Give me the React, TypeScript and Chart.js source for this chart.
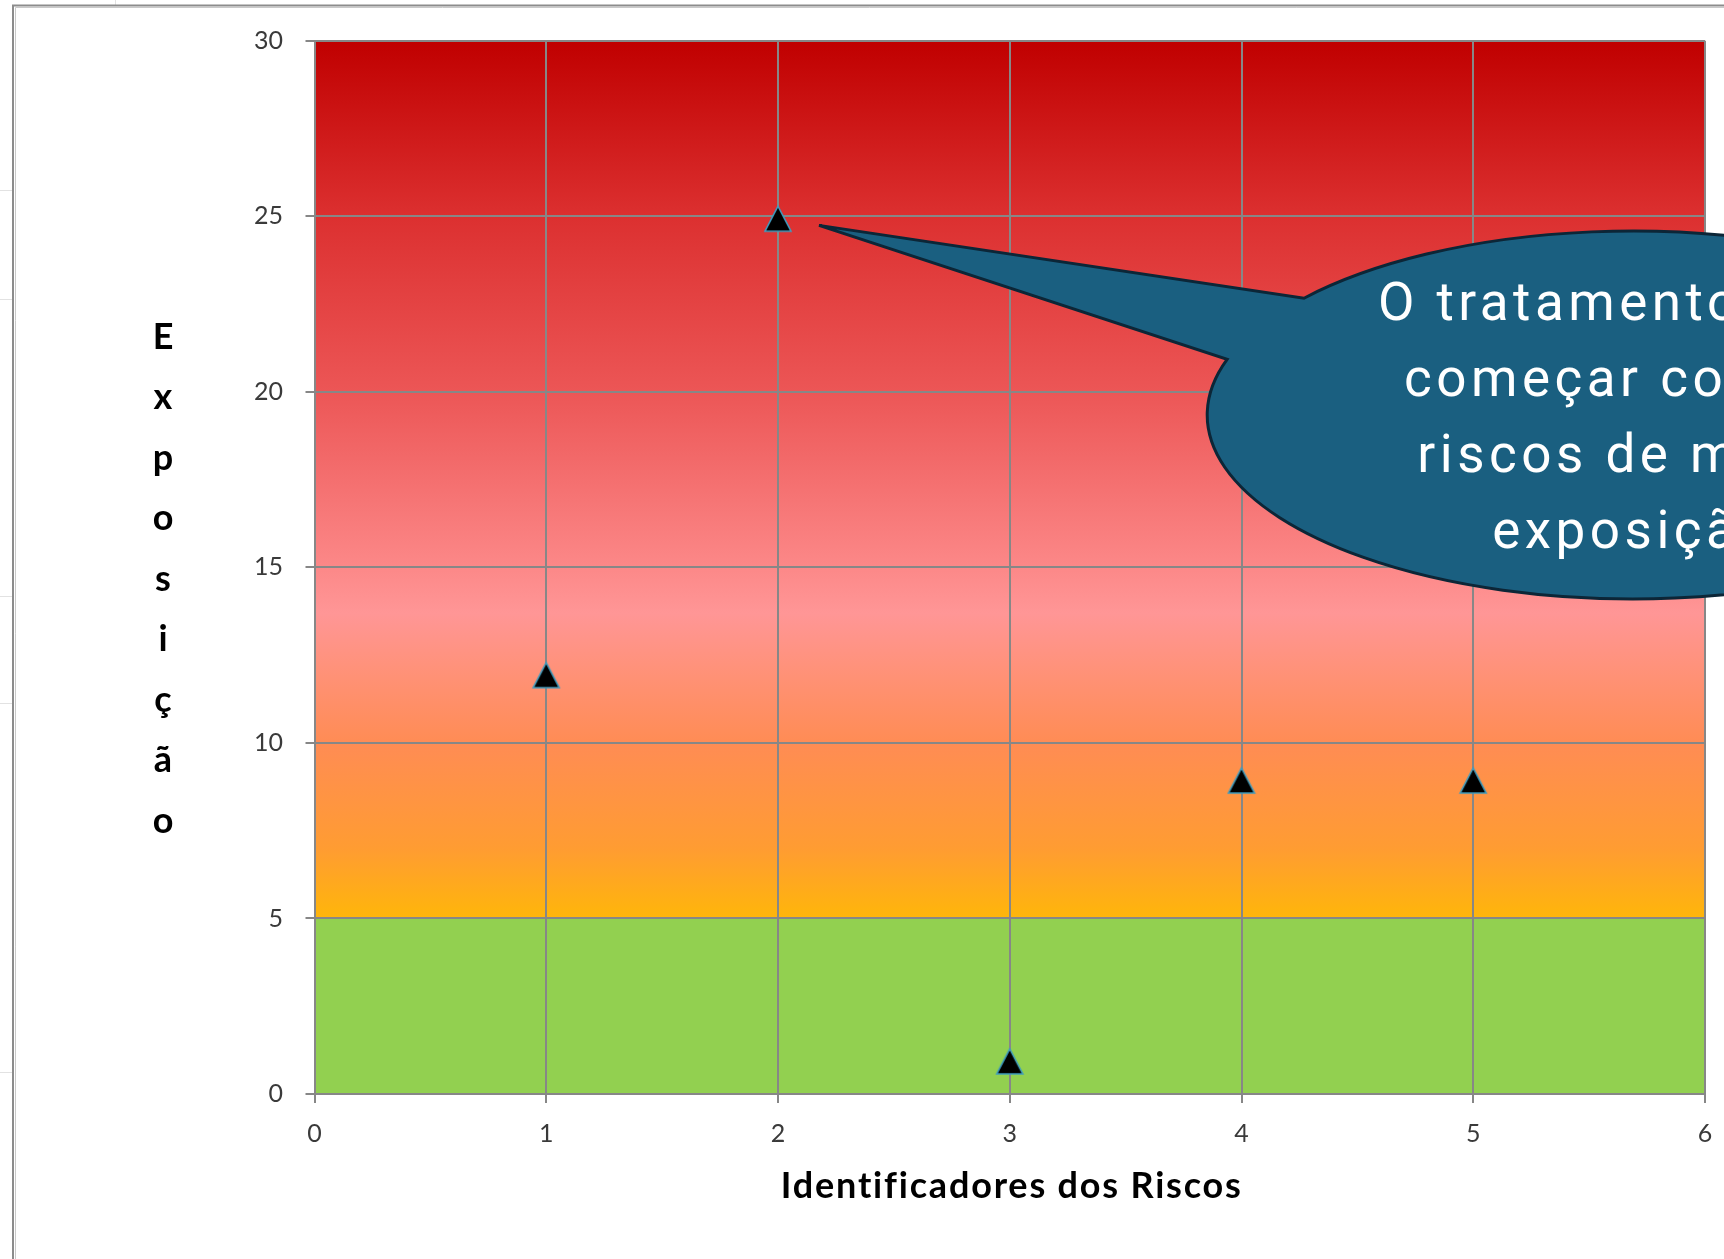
import React, { useEffect, useRef } from "react";
import { Chart, registerables } from "chart.js";

Chart.register(...registerables);

// ---- data ----
const riskIds = [1, 2, 3, 4, 5];
const exposure = [12, 25, 1, 9, 9];
const xTickValues = [0, 1, 2, 3, 4, 5, 6];
const yTickValues = [0, 5, 10, 15, 20, 25, 30];
const xTitle = "Identificadores dos Riscos";
const yTitleLetters = ["E", "x", "p", "o", "s", "i", "ç", "ã", "o"];
const calloutLines = ["O tratamento deve", "começar com os", "riscos de maior", "exposição"];

// background zones (value -> colour)
const greenZoneTop = 5;
const greenZoneColor = "#92D050";
const gradientStops: [number, string][] = [
  [30, "rgb(192,0,0)"],
  [25, "rgb(220,48,48)"],
  [20, "rgb(236,86,86)"],
  [15, "rgb(252,136,136)"],
  [13.7, "rgb(255,150,150)"],
  [10, "rgb(255,140,84)"],
  [7, "rgb(255,156,50)"],
  [5, "rgb(255,182,10)"],
];

// callout annotation (in data units)
const calloutTip = { x: 2.177, y: 24.74 };
const calloutUpperBase = { x: 4.255, y: 22.7 };
const calloutLowerBase = { x: 3.942, y: 20.92 };
const calloutCenter = { x: 5.69, y: 19.34 };
const calloutRadiusX = 1.838;
const calloutRadiusY = 5.24;

const W = 1724;
const H = 1259;

function makeTriangle(): HTMLCanvasElement {
  const c = document.createElement("canvas");
  c.width = 30;
  c.height = 36;
  const g = c.getContext("2d")!;
  g.beginPath();
  g.moveTo(15, 8);
  g.lineTo(28, 33);
  g.lineTo(2, 33);
  g.closePath();
  g.fillStyle = "#000000";
  g.fill();
  g.lineWidth = 1.6;
  g.strokeStyle = "#3E9CBF";
  g.lineJoin = "miter";
  g.stroke();
  return c;
}

const backgroundPlugin = {
  id: "bgZones",
  beforeDraw(chart: any) {
    const { ctx, chartArea, scales } = chart;
    const { left, right, top, bottom } = chartArea;
    const y = scales.y;
    ctx.save();
    ctx.fillStyle = "#ffffff";
    ctx.fillRect(0, 0, W, H);
    // faint spreadsheet lines outside the chart frame
    ctx.strokeStyle = "#e2e2e2";
    ctx.lineWidth = 1;
    [190, 299, 596, 703, 1072].forEach((yy) => {
      ctx.beginPath();
      ctx.moveTo(0, yy + 0.5);
      ctx.lineTo(12, yy + 0.5);
      ctx.stroke();
    });
    ctx.beginPath();
    ctx.moveTo(115.5, 0);
    ctx.lineTo(115.5, 5);
    ctx.stroke();
    // chart frame
    ctx.strokeStyle = "#c9c9c9";
    ctx.lineWidth = 1;
    ctx.beginPath();
    ctx.moveTo(15.5, H);
    ctx.lineTo(15.5, 7.5);
    ctx.lineTo(W, 7.5);
    ctx.stroke();
    ctx.strokeStyle = "#8c8c8c";
    ctx.lineWidth = 2;
    ctx.beginPath();
    ctx.moveTo(13, H);
    ctx.lineTo(13, 5.5);
    ctx.lineTo(W, 5.5);
    ctx.stroke();

    // zones
    const y5 = y.getPixelForValue(greenZoneTop);
    ctx.fillStyle = greenZoneColor;
    ctx.fillRect(left, y5, right - left, bottom - y5);
    const yTop = y.getPixelForValue(y.max);
    const grad = ctx.createLinearGradient(0, yTop, 0, y5);
    gradientStops.forEach(([v, c]) => {
      const p = (y.getPixelForValue(v) - yTop) / (y5 - yTop);
      grad.addColorStop(Math.min(1, Math.max(0, p)), c);
    });
    ctx.fillStyle = grad;
    ctx.fillRect(left, top, right - left, y5 - top);
    ctx.restore();
  },
};

const titlesPlugin = {
  id: "axisTitles",
  afterDraw(chart: any) {
    const { ctx, chartArea } = chart;
    ctx.save();
    ctx.fillStyle = "#000000";
    ctx.font = "bold 36px Lato";
    ctx.textAlign = "center";
    ctx.textBaseline = "middle";
    try {
      (ctx as any).letterSpacing = "1.8px";
    } catch (e) {}
    ctx.fillText(xTitle, (chartArea.left + chartArea.right) / 2 + 2, chartArea.bottom + 92);
    try {
      (ctx as any).letterSpacing = "0px";
    } catch (e) {}
    const midY = (chartArea.top + chartArea.bottom) / 2 + 12;
    const step = 60.5;
    const n = yTitleLetters.length;
    yTitleLetters.forEach((ch, i) => {
      ctx.fillText(ch, 163, midY + (i - (n - 1) / 2) * step);
    });
    ctx.restore();
  },
};

const calloutPlugin = {
  id: "callout",
  afterDraw(chart: any) {
    const { ctx, scales } = chart;
    const x = scales.x;
    const y = scales.y;
    const px = (v: number) => x.getPixelForValue(v);
    const py = (v: number) => y.getPixelForValue(v);
    const cx = px(calloutCenter.x);
    const cy = py(calloutCenter.y);
    const rx = px(calloutCenter.x + calloutRadiusX) - cx;
    const ry = cy - py(calloutCenter.y + calloutRadiusY);
    const ang = (p: { x: number; y: number }) =>
      Math.atan2((py(p.y) - cy) / ry, (px(p.x) - cx) / rx);
    const a1 = ang(calloutUpperBase);
    const a2 = ang(calloutLowerBase);
    ctx.save();
    ctx.beginPath();
    ctx.moveTo(px(calloutTip.x), py(calloutTip.y));
    ctx.lineTo(cx + rx * Math.cos(a1), cy + ry * Math.sin(a1));
    ctx.ellipse(cx, cy, rx, ry, 0, a1, a2, false);
    ctx.closePath();
    ctx.fillStyle = "#1A5F80";
    ctx.fill();
    ctx.lineWidth = 3;
    ctx.lineJoin = "miter";
    ctx.strokeStyle = "#0C2637";
    ctx.stroke();

    ctx.fillStyle = "#ffffff";
    ctx.font = "53px Roboto";
    ctx.textAlign = "center";
    ctx.textBaseline = "alphabetic";
    try {
      (ctx as any).letterSpacing = "4.5px";
    } catch (e) {}
    const lh = 76;
    const n = calloutLines.length;
    calloutLines.forEach((line, i) => {
      ctx.fillText(line, cx, cy + (i - (n - 1) / 2) * lh + 19);
    });
    ctx.restore();
  },
};

export default function App() {
  const ref = useRef<HTMLCanvasElement | null>(null);
  useEffect(() => {
    if (!ref.current) return;
    const tri = makeTriangle();
    const chart = new Chart(ref.current, {
      type: "scatter",
      data: {
        datasets: [
          {
            label: "Exposição",
            data: riskIds.map((id, i) => ({ x: id, y: exposure[i] })),
            pointStyle: tri as any,
            pointRadius: 14,
            showLine: false,
          },
        ],
      },
      options: {
        responsive: false,
        animation: false,
        events: [],
        devicePixelRatio: 1,
        layout: { padding: { left: 0, top: 40.7, right: 19, bottom: 0 } },
        plugins: {
          legend: { display: false },
          tooltip: { enabled: false },
        },
        scales: {
          x: {
            type: "linear",
            min: xTickValues[0],
            max: xTickValues[xTickValues.length - 1],
            afterBuildTicks: (s: any) => {
              s.ticks = xTickValues.map((v) => ({ value: v }));
            },
            afterFit: (s: any) => {
              s.height = 165;
              s.paddingLeft = 0;
              s.paddingRight = 0;
            },
            grid: { color: "#878787", lineWidth: 2, tickLength: 9, drawTicks: true },
            border: { color: "#878787", width: 2 },
            ticks: {
              color: "#3a3a3a",
              font: { family: "Lato", size: 25 },
              padding: 16,
              maxRotation: 0,
            },
          },
          y: {
            type: "linear",
            min: yTickValues[0],
            max: yTickValues[yTickValues.length - 1],
            afterBuildTicks: (s: any) => {
              s.ticks = yTickValues.map((v) => ({ value: v }));
            },
            afterFit: (s: any) => {
              s.width = 314.5;
            },
            grid: { color: "#878787", lineWidth: 2, tickLength: 9, drawTicks: true },
            border: { color: "#878787", width: 2 },
            ticks: {
              color: "#3a3a3a",
              font: { family: "Lato", size: 25 },
              padding: 22.5,
            },
          },
        },
      },
      plugins: [backgroundPlugin, titlesPlugin, calloutPlugin],
    });
    return () => chart.destroy();
  }, []);
  return (
    <canvas
      ref={ref}
      width={W}
      height={H}
      style={{ position: "fixed", left: 0, top: 0, width: W, height: H, display: "block" }}
    />
  );
}
